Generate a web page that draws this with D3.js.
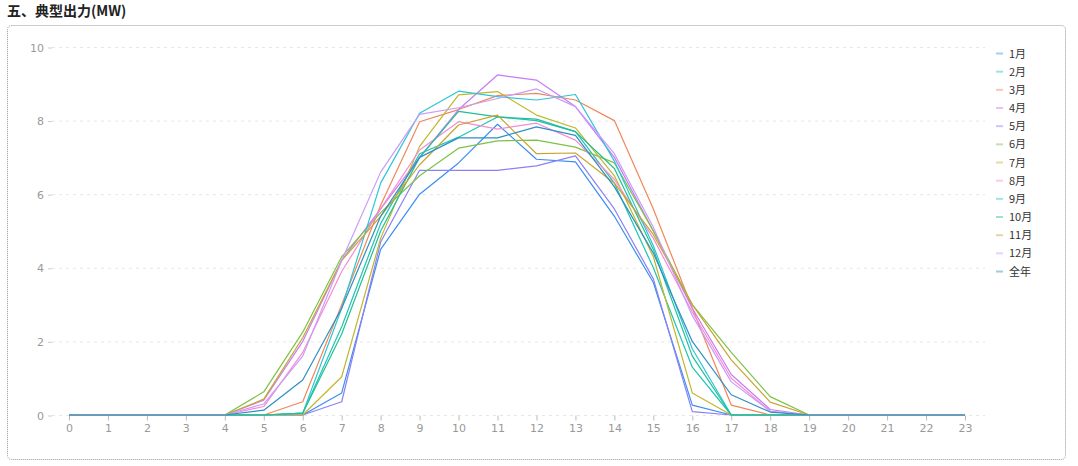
<!DOCTYPE html>
<html><head><meta charset="utf-8">
<script src="https://cdn.jsdelivr.net/npm/d3@7"></script>
<style>
body{margin:0;background:#fff;font-family:"Noto Sans CJK SC","Noto Sans",sans-serif;}
</style></head>
<body><svg id="c" width="1078" height="466"></svg>
<script>
const hours = d3.range(0, 24);
const seriesNames = ["1月","2月","3月","4月","5月","6月","7月","8月","9月","10月","11月","12月","全年"];
const colors = ["#3b8ef2","#1fc4b2","#f0875a","#c57cf6","#8b80f6","#7dc245","#c2b62c","#f68bd2","#2cc5d6","#20bf98","#c8a432","#c99bf7","#2e8fc3"];
const s1  = [0,0,0,0,0,0,0,0.6,4.5,6.0,6.85,7.9,6.95,6.88,5.4,3.6,0.27,0,0,0,0,0,0,0];
const s2  = [0,0,0,0,0,0,0.05,2.4,5.2,7.1,7.55,8.1,8.0,7.7,6.3,4.0,1.3,0,0,0,0,0,0,0];
const s3  = [0,0,0,0,0,0,0.36,3.0,5.7,7.97,8.3,8.68,8.74,8.56,8.0,5.6,2.9,0.27,0,0,0,0,0,0];
const s4  = [0,0,0,0,0,0.4,2.0,4.2,5.6,7.0,8.3,9.24,9.1,8.38,7.0,5.0,2.9,1.1,0.15,0,0,0,0,0];
const s5  = [0,0,0,0,0,0,0,0.36,4.7,6.65,6.65,6.65,6.77,7.04,5.6,3.7,0.09,0,0,0,0,0,0,0];
const s6  = [0,0,0,0,0,0.63,2.25,4.3,5.5,6.5,7.25,7.45,7.47,7.28,6.85,5.0,3.0,1.7,0.5,0,0,0,0,0];
const s7  = [0,0,0,0,0,0,0,1.04,4.8,7.3,8.7,8.79,8.15,7.8,6.5,4.3,0.6,0,0,0,0,0,0,0];
const s8  = [0,0,0,0,0,0.23,1.7,3.9,5.6,7.2,7.97,7.77,7.93,7.47,6.4,4.8,2.8,1.0,0.1,0,0,0,0,0];
const s9  = [0,0,0,0,0,0,0.05,2.9,6.3,8.2,8.8,8.65,8.56,8.71,6.9,4.6,1.8,0,0,0,0,0,0,0];
const s10 = [0,0,0,0,0,0,0.05,2.2,5.0,7.0,8.25,8.1,8.04,7.7,6.7,4.5,1.6,0,0,0,0,0,0,0];
const s11 = [0,0,0,0,0,0.43,2.1,4.2,5.4,6.8,7.88,8.15,7.1,7.12,6.3,4.9,3.0,1.5,0.35,0,0,0,0,0];
const s12 = [0,0,0,0,0,0.3,1.6,4.2,6.6,8.17,8.35,8.6,8.86,8.38,7.1,5.1,2.7,0.9,0.1,0,0,0,0,0];
const sAll= [0,0,0,0,0,0.13,0.95,2.9,5.4,7.0,7.53,7.53,7.83,7.6,6.2,4.4,2.0,0.55,0.08,0,0,0,0,0];
const seriesValues = [s1,s2,s3,s4,s5,s6,s7,s8,s9,s10,s11,s12,sAll];
const yTicks = [0,2,4,6,8,10];

const svg = d3.select("#c");
svg.append("text").attr("x",7).attr("y",16).attr("font-size",14).attr("font-weight","bold")
  .attr("fill","#222").text("五、典型出力(MW)");
svg.append("rect").attr("x",7.5).attr("y",25.5).attr("width",1058).attr("height",434).attr("rx",4)
  .attr("fill","none").attr("stroke","#999").attr("stroke-dasharray","1,1");

const x = d3.scaleLinear().domain([0,23]).range([69,965]);
const y = d3.scaleLinear().domain([0,10]).range([415,47]);

// grid
svg.append("g").selectAll("line").data(yTicks).join("line")
  .attr("x1",52).attr("x2",985).attr("y1",d=>y(d)+0.5).attr("y2",d=>y(d)+0.5)
  .attr("stroke","#e6e6e6").attr("stroke-dasharray","3,4");

const yAxis = svg.append("g").attr("transform","translate(52,0.5)")
  .call(d3.axisLeft(y).tickValues(yTicks).tickSize(4).tickPadding(4));
yAxis.select(".domain").remove();
yAxis.selectAll("line").attr("stroke","#ccc");
yAxis.selectAll("text").attr("fill","#999").attr("font-size",11).attr("font-family","DejaVu Sans");

const xAxis = svg.append("g").attr("transform","translate(0,415.5)")
  .call(d3.axisBottom(x).tickValues(hours).tickFormat(d=>d).tickSize(5).tickPadding(4));
xAxis.select(".domain").remove();
xAxis.selectAll("line").attr("stroke","#bbb");
xAxis.selectAll("text").attr("fill","#999").attr("font-size",11).attr("font-family","DejaVu Sans");

const line = d3.line().x((d,i)=>x(hours[i])).y(d=>y(d));
svg.append("g").selectAll("path").data(seriesValues).join("path")
  .attr("d",d=>line(d)).attr("fill","none")
  .attr("stroke",(d,i)=>colors[i]).attr("stroke-width",1.2).attr("stroke-linejoin","round");

const lg = svg.append("g").selectAll("g").data(seriesNames).join("g")
  .attr("transform",(d,i)=>`translate(996,${53+i*18.17})`);
lg.append("line").attr("x1",0).attr("x2",7).attr("y1",0.5).attr("y2",0.5)
  .attr("stroke",(d,i)=>colors[i]).attr("stroke-width",2).attr("opacity",0.45);
lg.append("text").attr("x",13).attr("y",4.5).attr("font-size",11).attr("fill","#333").text(d=>d);
</script></body></html>
